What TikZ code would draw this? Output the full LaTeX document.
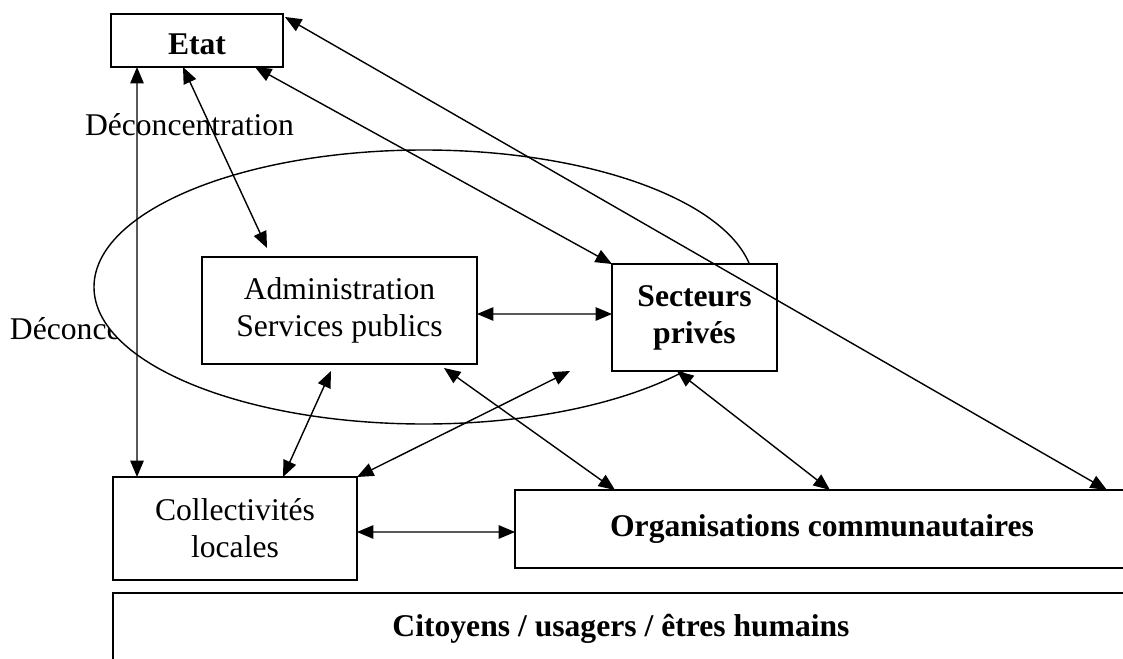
\documentclass[tikz,border=0pt]{standalone}
\usepackage{fontspec}
\setmainfont{Liberation Serif}
\usepackage{tikz}
\usetikzlibrary{positioning, arrows.meta}

\begin{document}
\begin{tikzpicture}[x=0.02cm, y=-0.02cm,
		every node/.style={font=\fontsize{18pt}{21pt}\selectfont, inner sep=0pt, outer sep=0pt},
		box/.style={draw, fill=white, line width=1pt, align=center},
		bold/.style={font=\fontsize{18pt}{21pt}\selectfont\bfseries},
		link/.style={<->, line width=0.8pt},
		>={Triangle[length=0.33cm, width=0.27cm]}]
		\useasboundingbox (0,0) rectangle (1123,659);
		\clip (0,0) rectangle (1123,659);
		
		\node (deconc1) [anchor=base west] at (85,135) {Déconcentration};
		\node (deconc2) [anchor=base west] at (10,339) {Déconcentration};
		
		\draw [line width=0.8pt, fill=white] (424,287) ellipse [x radius=330, y radius=137];
		
		\node (etat) [box, bold, minimum width=3.44cm, minimum height=1.06cm, text height=0.56cm, text depth=0pt] at (197,40.5) {Etat};
		\node (admin) [box, minimum width=5.5cm, minimum height=2.14cm] at (339.5,310.5) {Administration\\Services publics};
		\node (secteurs) [box, bold, minimum width=3.3cm, minimum height=2.14cm] at (694.5,317.5) {Secteurs\\privés};
		\node (collect) [box, minimum width=4.88cm, minimum height=2.06cm] at (235,528.5) {Collectivités\\locales};
		\node (org) [box, bold, minimum width=12.28cm, minimum height=1.56cm] at (822,529) {Organisations communautaires};
		\node (citoyens) [box, bold, minimum width=20.32cm, minimum height=1.44cm] at (621,629) {Citoyens / usagers / êtres humains};
		
		\draw [link] ([xshift=0.52cm]etat.south west) -- ([xshift=0.48cm]collect.north west);
		\draw [link] ([xshift=1.44cm]etat.south west) -- ([xshift=1.3cm,yshift=0.18cm]admin.north west);
		\draw [link] ([xshift=2.88cm]etat.south west) -- (secteurs.north west);
		\draw [link] ([xshift=0.04cm,yshift=-0.06cm]etat.north east) -- ([xshift=11.84cm]org.north west);
		
		\draw [link] ([yshift=-0.07cm]admin.east) -- ([yshift=0.07cm]secteurs.west);
		\draw [link] ([xshift=2.58cm,yshift=-0.14cm]admin.south west) -- ([xshift=3.4cm]collect.north west);
		\draw [link] (collect.north east) -- ([xshift=-0.84cm]secteurs.south west);
		\draw [link] ([xshift=-0.66cm,yshift=-0.08cm]admin.south east) -- ([xshift=2cm]org.north west);
		\draw [link] ([xshift=1.3cm]secteurs.south west) -- ([xshift=6.3cm]org.north west);
		\draw [link] ([yshift=-0.07cm]collect.east) -- ([yshift=-0.06cm]org.west);
		
	\end{tikzpicture}
\end{document}
